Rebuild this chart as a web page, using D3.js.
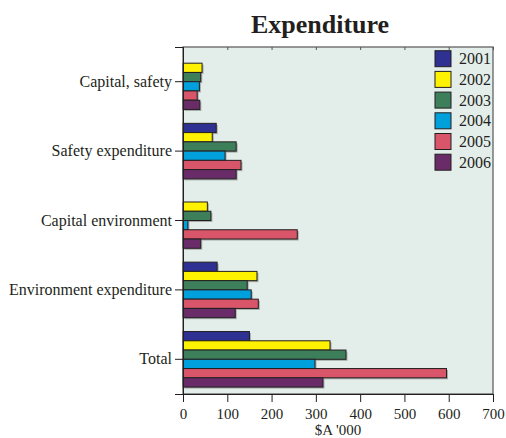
<!DOCTYPE html>
<html><head><meta charset="utf-8">
<script src="https://cdn.jsdelivr.net/npm/d3@7"></script>
<style>body{margin:0;background:#fff}svg{display:block}text{font-family:"Liberation Serif","Times New Roman",serif;fill:#231f20}</style>
</head><body><div id="chart"></div>
<script>
const categories = ["Capital, safety","Safety expenditure","Capital environment","Environment expenditure","Total"];
const years = ["2001","2002","2003","2004","2005","2006"];
const v2001 = [0, 75, 0, 77, 150];
const v2002 = [43, 66, 55, 167, 332];
const v2003 = [40, 120, 63, 145, 368];
const v2004 = [37, 95, 11, 154, 298];
const v2005 = [32, 131, 258, 170, 595];
const v2006 = [38, 120, 40, 118, 316];
const xTicks = [0,100,200,300,400,500,600,700];
const colors = ["#2e3192","#fff200","#3c7f5a","#00a0dc","#d9566a","#6a2c68"];
const series = [v2001,v2002,v2003,v2004,v2005,v2006];

const W=506,H=438;
const m={l:183,r:13,t:47,b:44};
const svg=d3.select("#chart").append("svg").attr("width",W).attr("height",H);
const x=d3.scaleLinear().domain([0,700]).range([m.l,W-m.r]);
const y=d3.scaleBand().domain(categories).range([m.t,H-m.b]).paddingInner(0.2).paddingOuter(0.1);
const yi=d3.scaleBand().domain(years).range([0,y.bandwidth()]);

svg.append("rect").attr("x",m.l).attr("y",m.t).attr("width",x(700)-m.l).attr("height",H-m.b-m.t)
  .attr("fill","#e3ede9");

const data=[];
categories.forEach((c,ci)=>years.forEach((yr,yi2)=>data.push({c,yr,v:series[yi2][ci],col:colors[yi2]})));
svg.append("g").selectAll("rect").data(data).join("rect")
  .attr("x",x(0)+1.5).attr("y",d=>y(d.c)+yi(d.yr)+1.5).attr("width",d=>x(d.v)-x(0))
  .attr("height",yi.bandwidth()).attr("fill","#8a8f8c").attr("opacity",0.7);
svg.append("g").selectAll("rect").data(data).join("rect")
  .attr("x",x(0)).attr("y",d=>y(d.c)+yi(d.yr)).attr("width",d=>x(d.v)-x(0))
  .attr("height",yi.bandwidth()).attr("fill",d=>d.col).attr("stroke","#231f20").attr("stroke-width",1);

svg.append("rect").attr("x",m.l).attr("y",m.t).attr("width",x(700)-m.l).attr("height",H-m.b-m.t)
  .attr("fill","none").attr("stroke","#555").attr("stroke-width",1.2);

const gx=svg.append("g").attr("transform",`translate(0,${H-m.b})`)
  .call(d3.axisBottom(x).tickValues(xTicks).tickSize(8).tickPadding(6).tickFormat(d3.format("d")));
gx.attr("font-family",null);
gx.select(".domain").attr("stroke","#231f20");
gx.selectAll(".tick line").attr("stroke","#231f20");
gx.selectAll("text").attr("font-size",15).style("font-family","'Liberation Serif'");
const gt=svg.append("g").attr("transform",`translate(0,${m.t})`)
  .call(d3.axisTop(x).tickValues(xTicks).tickSize(-3).tickFormat(""));
gt.select(".domain").remove();
gt.selectAll(".tick line").attr("stroke","#555");
const gy=svg.append("g").attr("transform",`translate(${m.l},0)`)
  .call(d3.axisLeft(y).tickSize(8).tickPadding(3));
gy.attr("font-family",null);
gy.select(".domain").attr("stroke","#231f20");
gy.selectAll(".tick line").attr("stroke","#231f20");
gy.selectAll("text").attr("font-size",16).style("font-family","'Liberation Serif'");

svg.append("text").attr("x",320).attr("y",33).attr("text-anchor","middle")
  .attr("font-size",26).attr("font-weight","bold").text("Expenditure");
svg.append("text").attr("x",(x(0)+x(700))/2).attr("y",435).attr("text-anchor","middle")
  .attr("font-size",15).text("$A '000");

const lg=svg.append("g").attr("transform","translate(435,50.7)");
years.forEach((yr,i)=>{
  const g=lg.append("g").attr("transform",`translate(0,${i*20.7})`);
  g.append("rect").attr("width",16).attr("height",16).attr("fill",colors[i]).attr("stroke","#231f20").attr("stroke-width",1);
  g.append("text").attr("x",24).attr("y",13.5).attr("font-size",16).text(yr);
});
</script></body></html>
